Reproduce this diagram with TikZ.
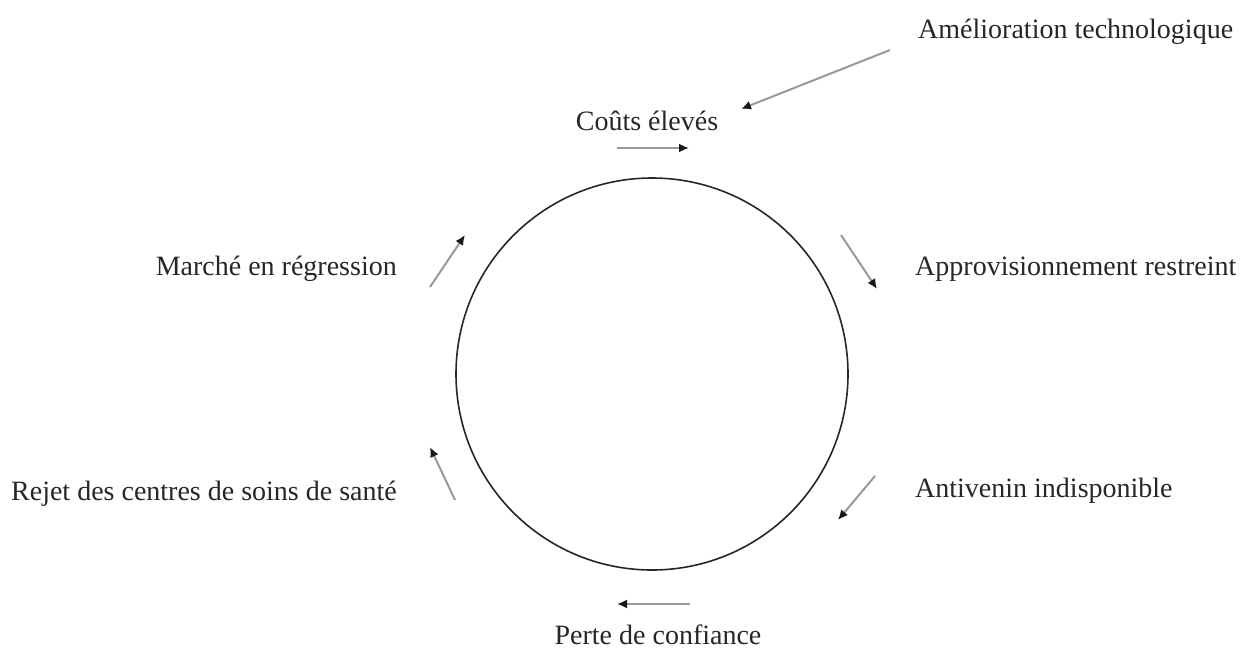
\documentclass[tikz,border=0pt]{standalone}
\usepackage{fontspec}
\setmainfont{Liberation Serif}
\usetikzlibrary{arrows.meta}
\begin{document}
\begin{tikzpicture}[x=1pt,y=-1pt,
  lbl/.style={font=\fontsize{28}{32}\selectfont, text=black!85, inner sep=0pt},
  flow/.style={draw=black!40, line width=2pt, -{Latex[black!90,length=10pt,width=9pt]}}]
\useasboundingbox (0,0) rectangle (1245,651);
\node[draw=black!85, line width=1.6pt, circle, minimum size=392pt, inner sep=0pt] (cyc) at (652,374) {};

\node[lbl] (couts) at (647,121) {Coûts élevés};
\node[lbl, anchor=west] (amel) at (918,32) {Amélioration technologique};
\node[lbl, anchor=west] (appro) at (915,269) {Approvisionnement restreint};
\node[lbl, anchor=west] (anti) at (915,491) {Antivenin indisponible};
\node[lbl] (perte) at (658,635) {Perte de confiance};
\node[lbl, anchor=east] (rejet) at (397,494) {Rejet des centres de soins de santé};
\node[lbl, anchor=east] (marche) at (397,269) {Marché en régression};

\coordinate (a1s) at (617,148); \coordinate (a1e) at (689,148);
\coordinate (a0s) at (890,50);  \coordinate (a0e) at (741,109);
\coordinate (a2s) at (841,235); \coordinate (a2e) at (877,289);
\coordinate (a3s) at (875,476); \coordinate (a3e) at (838,520);
\coordinate (a4s) at (690,604); \coordinate (a4e) at (617,604);
\coordinate (a5s) at (455,500); \coordinate (a5e) at (430,447);
\coordinate (a6s) at (430,287); \coordinate (a6e) at (465,235);

\draw[flow] (a0s) -- (a0e);
\draw[flow] (a1s) -- (a1e);
\draw[flow] (a2s) -- (a2e);
\draw[flow] (a3s) -- (a3e);
\draw[flow] (a4s) -- (a4e);
\draw[flow] (a5s) -- (a5e);
\draw[flow] (a6s) -- (a6e);
\end{tikzpicture}
\end{document}
